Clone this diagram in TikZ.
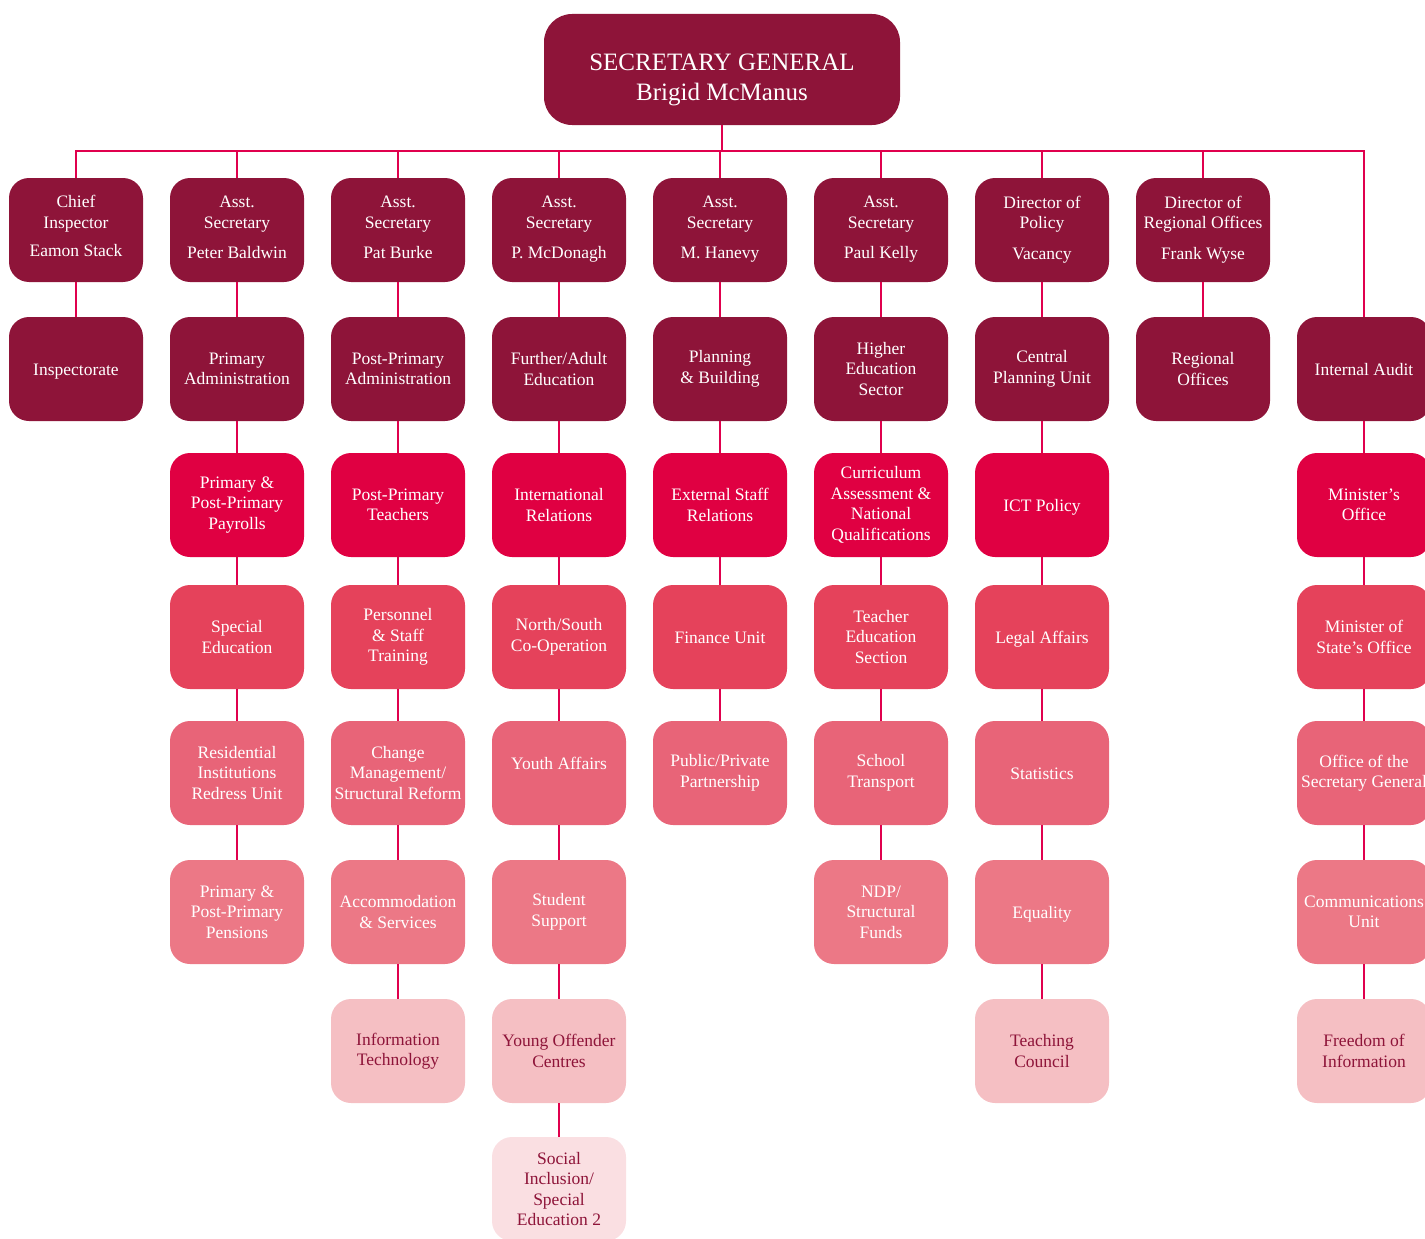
\documentclass[tikz,border=0pt]{standalone}
\usepackage{fontspec}
\setmainfont{Liberation Serif}
\definecolor{dk}{RGB}{142,20,57}
\definecolor{rthree}{RGB}{224,0,66}
\definecolor{rfour}{RGB}{229,66,91}
\definecolor{rfive}{RGB}{232,100,120}
\definecolor{rsix}{RGB}{236,120,134}
\definecolor{rseven}{RGB}{245,191,195}
\definecolor{reight}{RGB}{250,223,226}
\definecolor{conncol}{RGB}{224,0,77}
\begin{document}
\begin{tikzpicture}[x=1pt,y=-1pt,
  box/.style={rounded corners=20pt, minimum width=134pt, minimum height=104pt,
    inner sep=0pt, align=center, text=white,
    font=\fontsize{17.5}{20.5}\selectfont},
  one/.style={execute at begin node=\rule{0pt}{18pt}, execute at end node=\rule[-5pt]{0pt}{0pt}},
  head/.style={execute at end node=\rule[-5pt]{0pt}{0pt}},
  bdk/.style={box, fill=dk},
  bthree/.style={box, fill=rthree},
  bfour/.style={box, fill=rfour},
  bfive/.style={box, fill=rfive},
  bsix/.style={box, fill=rsix},
  bseven/.style={box, fill=rseven, text=dk},
  beight/.style={box, fill=reight, text=dk},
  conn/.style={draw=conncol, line width=2.4pt}]
\useasboundingbox (0,0) rectangle (1425,1239);
\clip (0,0) rectangle (1425,1239);

% top
\node[box, fill=dk, minimum width=356pt, minimum height=111pt, rounded corners=28pt,
  font=\fontsize{25}{30}\selectfont] (top) at (722,69.5)
  {\rule{0pt}{38pt}SECRETARY GENERAL\\Brigid McManus};

% column 1
\node[bdk, head] (c1r1) at (76,230) {Chief\\Inspector\\[8pt]Eamon Stack\rule[-8pt]{0pt}{0pt}};
\node[bdk, one] (c1r2) at (76,369) {Inspectorate};

% column 2
\node[bdk, head] (c2r1) at (237,230) {Asst.\\Secretary\\[10pt]Peter Baldwin};
\node[bdk] (c2r2) at (237,369) {Primary\\Administration};
\node[bthree] (c2r3) at (237,505) {Primary \&\\Post-Primary\\Payrolls};
\node[bfour] (c2r4) at (237,637) {Special\\Education};
\node[bfive] (c2r5) at (237,773) {Residential\\Institutions\\Redress Unit};
\node[bsix] (c2r6) at (237,912) {Primary \&\\Post-Primary\\Pensions};

% column 3
\node[bdk, head] (c3r1) at (398,230) {Asst.\\Secretary\\[10pt]Pat Burke};
\node[bdk] (c3r2) at (398,369) {Post-Primary\\Administration};
\node[bthree] (c3r3) at (398,505) {Post-Primary\\Teachers};
\node[bfour] (c3r4) at (398,637) {Personnel\\\& Staff\\Training};
\node[bfive] (c3r5) at (398,773) {Change\\Management/\\Structural Reform};
\node[bsix] (c3r6) at (398,912) {Accommodation\\\& Services};
\node[bseven] (c3r7) at (398,1051) {Information\\Technology};

% column 4
\node[bdk, head] (c4r1) at (559,230) {Asst.\\Secretary\\[10pt]P. McDonagh};
\node[bdk] (c4r2) at (559,369) {Further/Adult\\Education};
\node[bthree] (c4r3) at (559,505) {International\\Relations};
\node[bfour] (c4r4) at (559,637) {North/South\\Co-Operation};
\node[bfive, one] (c4r5) at (559,773) {Youth Affairs\rule[-25pt]{0pt}{0pt}};
\node[bsix] (c4r6) at (559,912) {Student\\Support};
\node[bseven] (c4r7) at (559,1051) {Young Offender\\Centres};
\node[beight] (c4r8) at (559,1189) {Social\\Inclusion/\\Special\\Education 2};

% column 5
\node[bdk, head] (c5r1) at (720,230) {Asst.\\Secretary\\[10pt]M. Hanevy};
\node[bdk] (c5r2) at (720,369) {Planning\\\& Building};
\node[bthree] (c5r3) at (720,505) {External Staff\\Relations};
\node[bfour, one] (c5r4) at (720,637) {Finance Unit};
\node[bfive] (c5r5) at (720,773) {Public/Private\\Partnership};

% column 6
\node[bdk, head] (c6r1) at (881,230) {Asst.\\Secretary\\[10pt]Paul Kelly};
\node[bdk] (c6r2) at (881,369) {Higher\\Education\\Sector};
\node[bthree] (c6r3) at (881,505) {Curriculum\\Assessment \&\\National\\Qualifications};
\node[bfour] (c6r4) at (881,637) {Teacher\\Education\\Section};
\node[bfive] (c6r5) at (881,773) {School\\Transport};
\node[bsix] (c6r6) at (881,912) {NDP/\\Structural\\Funds};

% column 7
\node[bdk, head] (c7r1) at (1042,230) {Director of\\Policy\\[10pt]Vacancy};
\node[bdk] (c7r2) at (1042,369) {Central\\Planning Unit};
\node[bthree, one] (c7r3) at (1042,505) {ICT Policy};
\node[bfour, one] (c7r4) at (1042,637) {Legal Affairs};
\node[bfive, one] (c7r5) at (1042,773) {Statistics};
\node[bsix, one] (c7r6) at (1042,912) {Equality};
\node[bseven] (c7r7) at (1042,1051) {Teaching\\Council};

% column 8
\node[bdk, head] (c8r1) at (1203,230) {Director of\\Regional Offices\\[10pt]Frank Wyse};
\node[bdk] (c8r2) at (1203,369) {Regional\\Offices};

% column 9
\node[bdk, one] (c9r2) at (1364,369) {Internal Audit};
\node[bthree] (c9r3) at (1364,505) {Minister’s\\Office};
\node[bfour] (c9r4) at (1364,637) {Minister of\\State’s Office};
\node[bfive] (c9r5) at (1364,773) {Office of the\\Secretary General};
\node[bsix] (c9r6) at (1364,912) {Communications\\Unit};
\node[bseven] (c9r7) at (1364,1051) {Freedom of\\Information};

% connectors
\coordinate (bus) at (720,151);
\draw[conn] (top) -- (top.south |- bus);
\draw[conn] (c1r1.north) -- (c1r1.north |- bus) -- (c9r2.north |- bus) -- (c9r2.north);
\foreach \c in {2,...,8} { \draw[conn] (c\c r1.north) -- (c\c r1.north |- bus); }
\draw[conn] (c1r1) -- (c1r2);
\draw[conn] (c2r1) -- (c2r2) -- (c2r3) -- (c2r4) -- (c2r5) -- (c2r6);
\draw[conn] (c3r1) -- (c3r2) -- (c3r3) -- (c3r4) -- (c3r5) -- (c3r6) -- (c3r7);
\draw[conn] (c4r1) -- (c4r2) -- (c4r3) -- (c4r4) -- (c4r5) -- (c4r6) -- (c4r7) -- (c4r8);
\draw[conn] (c5r1) -- (c5r2) -- (c5r3) -- (c5r4) -- (c5r5);
\draw[conn] (c6r1) -- (c6r2) -- (c6r3) -- (c6r4) -- (c6r5) -- (c6r6);
\draw[conn] (c7r1) -- (c7r2) -- (c7r3) -- (c7r4) -- (c7r5) -- (c7r6) -- (c7r7);
\draw[conn] (c8r1) -- (c8r2);
\draw[conn] (c9r2) -- (c9r3) -- (c9r4) -- (c9r5) -- (c9r6) -- (c9r7);
\end{tikzpicture}
\end{document}
